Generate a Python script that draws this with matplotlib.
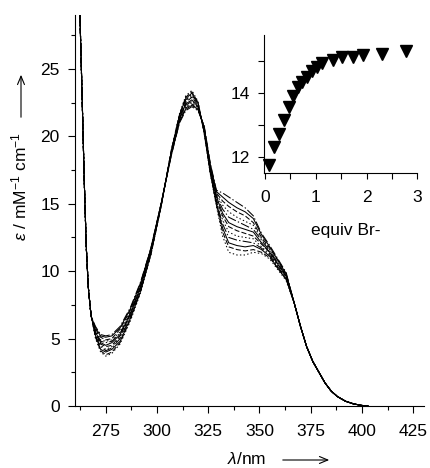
import matplotlib
matplotlib.use("Agg")
import matplotlib.pyplot as plt
from matplotlib.ticker import MultipleLocator

plt.rcParams['font.family'] = ['Liberation Sans', 'DejaVu Sans']
plt.rcParams['mathtext.fontset'] = 'custom'
plt.rcParams['mathtext.rm'] = 'Liberation Sans'
plt.rcParams['mathtext.it'] = 'Liberation Sans:italic'
plt.rcParams['lines.scale_dashes'] = False

# steep UV edge, same for every spectrum
wl_head = [261.5, 262.5, 263.5, 264.5, 265.5, 266.5, 267.5, 268.0]
eps_head = [33.0, 28.5, 22.8, 16.8, 11.8, 8.8, 7.2, 6.6]

# region where the spectra differ
wl_mid = [270, 272.5, 275, 278, 282, 287, 292, 297, 302, 307, 311, 314, 317,
          320, 323, 326, 329, 332, 335, 339, 343, 347, 351, 355, 359, 363]
eps_mid = [
    [5.0, 4.0, 3.7, 3.9, 4.6, 6.3, 8.4, 11.2, 14.8, 19.0, 21.7, 23.0, 23.4, 22.6, 20.2, 17.2, 14.8, 12.6, 11.4, 11.2, 11.2, 11.4, 11.3, 10.9, 10.1, 9.3],
    [5.1, 4.1, 3.8, 4.0, 4.7, 6.4, 8.5, 11.2, 14.8, 19.0, 21.6, 22.9, 23.3, 22.5, 20.3, 17.3, 14.9, 12.9, 11.8, 11.6, 11.5, 11.6, 11.4, 11.0, 10.2, 9.4],
    [5.2, 4.2, 4.0, 4.2, 4.8, 6.5, 8.5, 11.3, 14.8, 18.9, 21.6, 22.8, 23.2, 22.5, 20.3, 17.3, 15.0, 13.2, 12.1, 11.9, 11.8, 11.9, 11.6, 11.1, 10.2, 9.4],
    [5.2, 4.4, 4.1, 4.3, 5.0, 6.6, 8.6, 11.3, 14.9, 18.9, 21.5, 22.7, 23.1, 22.4, 20.4, 17.4, 15.1, 13.5, 12.5, 12.3, 12.2, 12.1, 11.7, 11.2, 10.3, 9.5],
    [5.3, 4.5, 4.2, 4.4, 5.1, 6.7, 8.7, 11.4, 14.9, 18.9, 21.4, 22.6, 23.0, 22.3, 20.4, 17.5, 15.2, 13.8, 12.9, 12.6, 12.5, 12.4, 11.8, 11.3, 10.4, 9.5],
    [5.4, 4.6, 4.4, 4.5, 5.2, 6.8, 8.8, 11.4, 14.9, 18.8, 21.4, 22.5, 22.9, 22.3, 20.5, 17.6, 15.3, 14.1, 13.3, 13.0, 12.8, 12.6, 12.0, 11.4, 10.5, 9.6],
    [5.5, 4.7, 4.5, 4.7, 5.3, 6.8, 8.8, 11.5, 14.9, 18.8, 21.3, 22.4, 22.7, 22.2, 20.5, 17.6, 15.5, 14.3, 13.6, 13.3, 13.1, 12.9, 12.1, 11.4, 10.5, 9.6],
    [5.6, 4.8, 4.7, 4.8, 5.4, 6.9, 8.9, 11.5, 14.9, 18.8, 21.3, 22.3, 22.6, 22.2, 20.6, 17.7, 15.6, 14.6, 14.0, 13.7, 13.4, 13.1, 12.3, 11.5, 10.6, 9.7],
    [5.7, 4.9, 4.8, 4.9, 5.5, 7.0, 9.0, 11.6, 15.0, 18.7, 21.2, 22.2, 22.5, 22.1, 20.6, 17.8, 15.7, 14.9, 14.4, 14.0, 13.7, 13.4, 12.4, 11.6, 10.7, 9.7],
    [5.7, 5.1, 4.9, 5.0, 5.7, 7.1, 9.1, 11.6, 15.0, 18.7, 21.1, 22.1, 22.4, 22.0, 20.7, 17.9, 15.8, 15.2, 14.8, 14.4, 14.1, 13.6, 12.5, 11.7, 10.8, 9.8],
    [5.8, 5.2, 5.1, 5.2, 5.8, 7.2, 9.1, 11.7, 15.0, 18.6, 21.1, 22.0, 22.3, 22.0, 20.7, 17.9, 15.9, 15.5, 15.1, 14.7, 14.4, 13.9, 12.7, 11.8, 10.8, 9.8],
    [5.9, 5.3, 5.2, 5.3, 5.9, 7.3, 9.2, 11.7, 15.0, 18.6, 21.0, 21.9, 22.2, 21.9, 20.8, 18.0, 16.0, 15.8, 15.5, 15.1, 14.7, 14.1, 12.8, 11.9, 10.9, 9.9],
]

# long-wavelength tail, same for every spectrum
wl_tail = [367, 370, 373, 376, 379, 382, 385, 388, 392, 396, 400, 403]
eps_tail = [7.6, 5.9, 4.4, 3.3, 2.5, 1.7, 1.1, 0.7, 0.35, 0.15, 0.04, 0.0]

styles = [':', '--', '-', '-.', ':', '--', '-', '-.', ':', '--', '-', '-.']

# inset: titration
equiv = [0.08, 0.18, 0.28, 0.37, 0.47, 0.56, 0.64, 0.73, 0.82, 0.92, 1.02, 1.12,
         1.33, 1.52, 1.73, 1.92, 2.30, 2.78]
eps_inset = [11.76, 12.32, 12.72, 13.17, 13.58, 13.92, 14.18, 14.33, 14.49, 14.68,
             14.82, 14.94, 15.03, 15.12, 15.12, 15.17, 15.22, 15.32]

fig = plt.figure(figsize=(4.31, 4.68), dpi=100)
ax = fig.add_axes([0.174, 0.1325, 0.8086, 0.8355])

wl = wl_head + wl_mid + wl_tail
for row, ls in zip(eps_mid, styles):
    ax.plot(wl, eps_head + row + eps_tail, color='black', lw=0.75, ls=ls)

ax.set_xlim(260, 430)
ax.set_ylim(0, 29)
ax.xaxis.set_major_locator(MultipleLocator(25))
ax.xaxis.set_minor_locator(MultipleLocator(12.5))
ax.yaxis.set_major_locator(MultipleLocator(5))
ax.yaxis.set_minor_locator(MultipleLocator(2.5))
ax.spines['top'].set_visible(False)
ax.spines['right'].set_visible(False)
for s in ('left', 'bottom'):
    ax.spines[s].set_linewidth(0.8)
ax.tick_params(axis='x', which='major', length=5, width=0.8, labelsize=12.5, pad=8)
ax.tick_params(axis='y', which='major', length=5, width=0.8, labelsize=12.5, pad=6)
ax.tick_params(which='minor', length=3, width=0.8)

# inset
ins = fig.add_axes([0.6125, 0.6297, 0.356, 0.295])
ins.plot(equiv, eps_inset, ls='none', marker='v', ms=9, color='black', clip_on=False)
ins.set_xlim(-0.02, 3.0)
ins.set_ylim(11.5, 15.8)
ins.xaxis.set_major_locator(MultipleLocator(1))
ins.xaxis.set_minor_locator(MultipleLocator(0.5))
ins.yaxis.set_major_locator(MultipleLocator(2))
ins.yaxis.set_minor_locator(MultipleLocator(1))
ins.spines['top'].set_visible(False)
ins.spines['right'].set_visible(False)
for s in ('left', 'bottom'):
    ins.spines[s].set_linewidth(0.8)
ins.tick_params(which='both', length=4, width=0.8, labelsize=12.5)
ins.tick_params(axis='x', pad=8)
ins.tick_params(axis='y', pad=6)
ins.patch.set_alpha(0)

fig.text(0.803, 1 - 235 / 468, 'equiv Br-', fontsize=12.5, ha='center', va='baseline')

# axis labels with arrows
fig.text(0.045, 1 - 187 / 468, r'$\varepsilon$ / mM$^{-1}$ cm$^{-1}$', rotation=90,
         fontsize=12.5, ha='center', va='center')
fig.add_artist(matplotlib.patches.FancyArrowPatch(
    (21 / 431, 1 - 120 / 468), (21 / 431, 1 - 72 / 468), transform=fig.transFigure,
    arrowstyle='->,head_length=6,head_width=2.5', lw=0.8, color='black'))

fig.text(227 / 431, 1 - 464 / 468, r'$\lambda$/nm', fontsize=12.5, ha='left', va='baseline')
fig.add_artist(matplotlib.patches.FancyArrowPatch(
    (280 / 431, 1 - 460 / 468), (332 / 431, 1 - 460 / 468), transform=fig.transFigure,
    arrowstyle='->,head_length=6,head_width=2.5', lw=0.8, color='black'))

fig.savefig('out.png', dpi=100)
